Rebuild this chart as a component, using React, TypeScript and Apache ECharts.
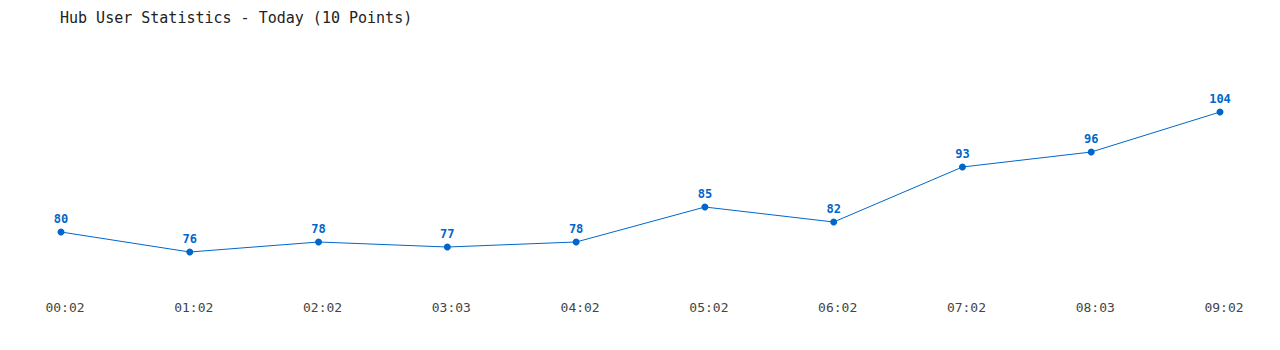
import React, { useEffect, useRef } from "react";
import * as echarts from "echarts";

const categories = ["00:02", "01:02", "02:02", "03:03", "04:02", "05:02", "06:02", "07:02", "08:03", "09:02"];
const users = [80, 76, 78, 77, 78, 85, 82, 93, 96, 104];
const titleText = "Hub User Statistics - Today (10 Points)";

const FONT = "'DejaVu Sans Mono', 'Liberation Mono', monospace";

export default function App() {
  const ref = useRef<HTMLDivElement>(null);
  useEffect(() => {
    if (!ref.current) return;
    const chart = echarts.init(ref.current, undefined, { renderer: "svg" });
    chart.setOption({
      animation: false,
      backgroundColor: "#ffffff",
      title: {
        text: titleText,
        left: 55,
        top: 5,
        textStyle: { fontFamily: FONT, fontSize: 15, fontWeight: "normal", color: "#222" },
      },
      grid: { left: 61, right: 60, top: 82, bottom: 68 },
      xAxis: {
        type: "category",
        data: categories,
        boundaryGap: false,
        axisLine: { show: false },
        axisTick: { show: false },
        splitLine: { show: false },
        axisLabel: { fontFamily: FONT, fontSize: 13, color: "#444", margin: 19, padding: [0, 0, 0, 8] },
      },
      yAxis: {
        type: "value",
        min: 70,
        max: 110,
        show: false,
      },
      series: [
        {
          type: "line",
          data: users,
          symbol: "circle",
          symbolSize: 7,
          lineStyle: { color: "#0066cc", width: 1 },
          itemStyle: { color: "#0066cc" },
          label: {
            show: true,
            position: "top",
            distance: 4,
            fontFamily: FONT,
            fontSize: 12,
            fontWeight: "bold",
            color: "#0066cc",
          },
        },
      ],
    });
    return () => chart.dispose();
  }, []);
  return <div ref={ref} style={{ width: 1280, height: 350, position: "absolute", left: 0, top: 0 }} />;
}
